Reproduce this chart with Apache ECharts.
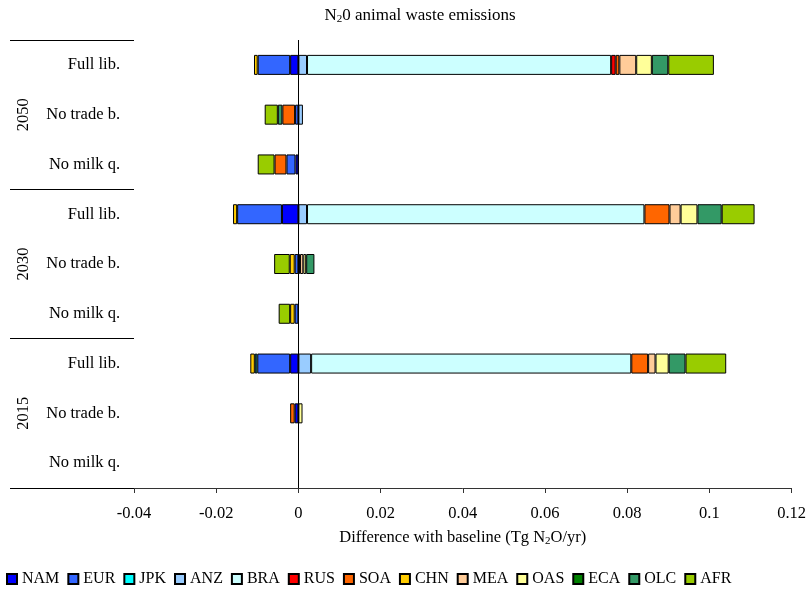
<!DOCTYPE html>
<html>
<head>
<meta charset="utf-8">
<title>N2O animal waste emissions</title>
<script src="https://cdn.jsdelivr.net/npm/echarts@6/dist/echarts.min.js"></script>
<style>
  html, body { margin: 0; padding: 0; background: #fff; }
  #chart { width: 809px; height: 591px; }
</style>
</head>
<body>
<div id="chart"></div>
<script>
// Scenario rows, listed from top to bottom
const scenarios = ['Full lib.', 'No trade b.', 'No milk q.',
                   'Full lib.', 'No trade b.', 'No milk q.',
                   'Full lib.', 'No trade b.', 'No milk q.'];
const years = ['2050', '2030', '2015'];

// Region series (Tg N2O/yr difference with baseline), same row order
const regions = ['NAM', 'EUR', 'JPK', 'ANZ', 'BRA', 'RUS', 'SOA', 'CHN', 'MEA', 'OAS', 'ECA', 'OLC', 'AFR'];
const NAM = [-0.0020, 0, -0.0007, -0.0040, 0, 0, -0.0020, -0.0009, 0];
const EUR = [-0.0079, -0.0008, -0.0022, -0.0109, -0.0009, -0.0009, -0.0080, 0, 0];
const JPK = [0, 0, 0, 0, 0, 0, -0.0006, 0, 0];
const ANZ = [0.0021, 0.0011, 0, 0.0021, 0.0004, 0, 0.0031, 0, 0];
const BRA = [0.0740, 0, 0, 0.0821, 0, 0, 0.0779, 0, 0];
const RUS = [0.0011, 0, 0, 0, 0, 0, 0, 0, 0];
const SOA = [0.0009, -0.0031, -0.0029, 0.0061, 0, 0, 0.0041, -0.0011, 0];
const CHN = [-0.0009, 0, 0, -0.0010, -0.0012, -0.0011, -0.0011, 0, 0];
const MEA = [0.0041, 0, 0, 0.0027, 0.0008, 0, 0.0018, 0, 0];
const OAS = [0.0038, 0, 0, 0.0041, 0.0007, 0, 0.0032, 0.0010, 0];
const ECA = [0, 0, 0, 0, 0, 0, 0, 0, 0];
const OLC = [0.0040, -0.0011, 0, 0.0059, 0.0020, 0, 0.0041, 0, 0];
const AFR = [0.0111, -0.0032, -0.0041, 0.0080, -0.0038, -0.0028, 0.0099, 0, 0];
const values = [NAM, EUR, JPK, ANZ, BRA, RUS, SOA, CHN, MEA, OAS, ECA, OLC, AFR];

const colors = ['#0000FF', '#3366FF', '#00FFFF', '#99CCFF', '#CCFFFF', '#FF0000', '#FF6600',
                '#FFCC00', '#FFCC99', '#FFFF99', '#008000', '#339966', '#99CC00'];

const FONT = '"Liberation Serif", "Times New Roman", serif';
const FS = 16.5;
const subStyle = { fontSize: 11, fontFamily: FONT, color: '#000', padding: [7, 0, 0, 0] };

const series = regions.map((name, i) => {
  const s = {
    name: name,
    type: 'bar',
    stack: 'total',
    barWidth: 20,
    data: values[i].map(v => (v === 0 ? '-' : v)),
    itemStyle: { color: colors[i], borderColor: '#000', borderWidth: 1 },
    emphasis: { disabled: true }
  };
  if (i === 0) {
    // vertical line through zero
    s.markLine = {
      silent: true,
      symbol: ['none', 'none'],
      label: { show: false },
      lineStyle: { color: '#000', width: 1, type: 'solid' },
      data: [{ xAxis: 0 }]
    };
  }
  return s;
});

const chart = echarts.init(document.getElementById('chart'), null, { renderer: 'canvas' });
chart.setOption({
  animation: false,
  color: colors,
  textStyle: { fontFamily: FONT },
  title: {
    text: 'N{s|2}0 animal waste emissions',
    left: 415,
    textAlign: 'center',
    top: 2,
    textStyle: {
      fontFamily: FONT, fontSize: 17, fontWeight: 'normal', color: '#000',
      rich: { s: subStyle }
    }
  },
  grid: { left: 134, right: 17, top: 40, bottom: 103, containLabel: false },
  legend: {
    left: 1,
    top: 566,
    itemWidth: 10,
    itemHeight: 10,
    itemGap: 8,
    icon: 'rect',
    selectedMode: false,
    textStyle: { fontFamily: FONT, fontSize: 16, color: '#000', padding: [2, 0, 0, 0] },
    data: regions
  },
  xAxis: {
    type: 'value',
    min: -0.04,
    max: 0.12,
    interval: 0.02,
    splitLine: { show: false },
    axisLine: { show: true, onZero: false, lineStyle: { color: '#333', width: 1 } },
    axisTick: { show: true, length: 5, lineStyle: { color: '#333' } },
    axisLabel: { fontFamily: FONT, fontSize: FS, color: '#000', margin: 17 },
    name: 'Difference with baseline (Tg N{s|2}O/yr)',
    nameLocation: 'middle',
    nameGap: 41,
    nameTextStyle: { fontFamily: FONT, fontSize: FS, color: '#000', rich: { s: subStyle } }
  },
  yAxis: [
    {
      type: 'category',
      data: scenarios,
      inverse: true,
      axisLine: { show: false },
      axisTick: { show: false },
      axisLabel: { fontFamily: FONT, fontSize: FS, color: '#000', margin: 14 }
    },
    {
      // year groups: boundary ticks form the divider lines
      type: 'category',
      data: years,
      inverse: true,
      position: 'left',
      offset: 0,
      axisLine: { show: false },
      axisTick: { show: true, length: 124, lineStyle: { color: '#000', width: 1 } },
      axisLabel: { fontFamily: FONT, fontSize: FS, color: '#000', rotate: 90, margin: 102 }
    }
  ],
  series: series
});
</script>
</body>
</html>
